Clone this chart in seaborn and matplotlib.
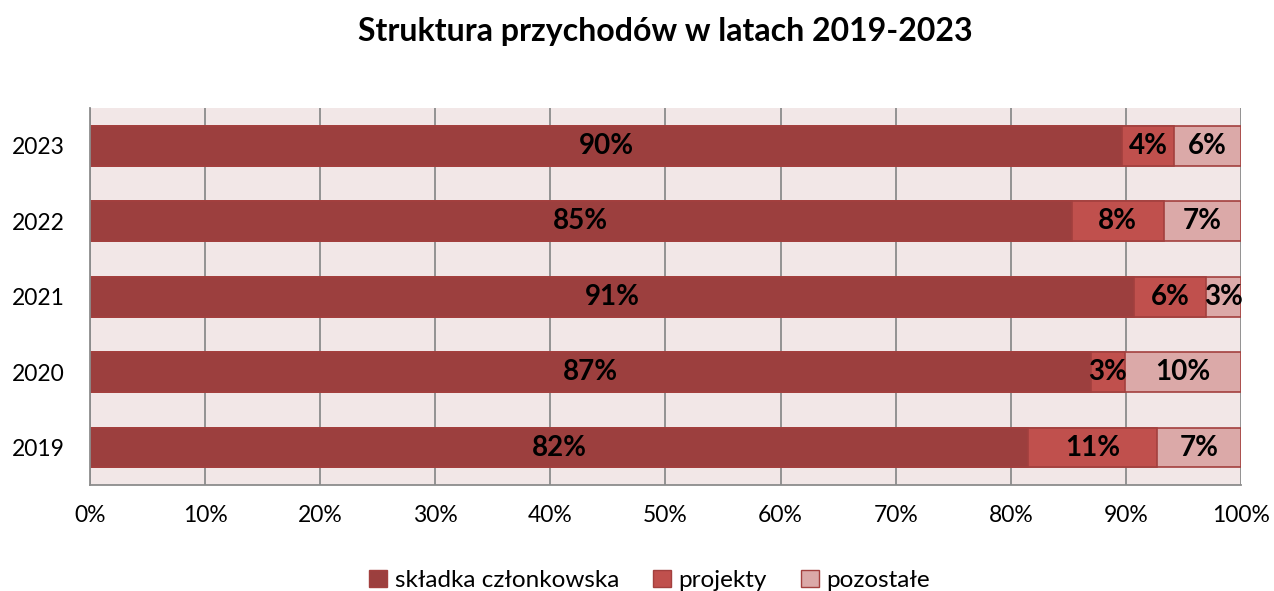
import numpy as np
import pandas as pd
import seaborn as sns
import matplotlib.pyplot as plt
from matplotlib.patches import Patch

# data (percent of total revenue)
years = ["2023", "2022", "2021", "2020", "2019"]
skladka = [89.7, 85.3, 90.7, 87.0, 81.5]
projekty = [4.5, 8.0, 6.3, 2.9, 11.2]
pozostale = [5.8, 6.7, 3.0, 10.1, 7.3]
series_names = ["składka członkowska", "projekty", "pozostałe"]

colors = ["#9C3F3E", "#C0504D", "#DBA9A8"]
edge = "#A3403E"

sns.set_theme(style="white")
plt.rcParams["font.family"] = ["Lato", "DejaVu Sans"]
plt.rcParams["text.color"] = "black"
plt.rcParams["xtick.color"] = "black"
plt.rcParams["ytick.color"] = "black"

df = pd.DataFrame({"rok": years, "s1": skladka, "s2": projekty, "s3": pozostale})
df["c1"] = df["s1"]
df["c2"] = df["s1"] + df["s2"]
df["c3"] = df["c2"] + df["s3"]

fig = plt.figure(figsize=(12.74, 5.91), dpi=100)
ax = fig.add_axes([0.0706, 0.179, 0.9035, 0.638])
ax.set_facecolor("#F2E7E7")

# stacked bars: draw cumulative totals back to front
for col, c in zip(["c3", "c2", "c1"], colors[::-1]):
    sns.barplot(data=df, x=col, y="rok", order=years, color=c, width=0.53,
                edgecolor=edge, linewidth=1.2, saturation=1, ax=ax)

# labels in segment centres
for i, row in df.iterrows():
    starts = [0, row["c1"], row["c2"]]
    vals = [row["s1"], row["s2"], row["s3"]]
    for s, v in zip(starts, vals):
        ax.text(s + v / 2, i, f"{round(v):d}%", ha="center", va="center",
                fontsize=20, fontweight="bold", color="black")

ax.set_xlim(0, 100)
ax.set_ylim(4.5, -0.5)
ax.set_xticks(np.arange(0, 101, 10))
ax.set_xticklabels([f"{t}%" for t in range(0, 101, 10)])
ax.tick_params(axis="x", labelsize=16.5, pad=14, length=0)
ax.tick_params(axis="y", labelsize=16.5, pad=18, length=0)
ax.set_xlabel("")
ax.set_ylabel("")
ax.grid(axis="x", color="#8C8C8C", linewidth=1.3)
ax.set_axisbelow(True)
for side in ["top", "right"]:
    ax.spines[side].set_visible(False)
for side in ["left", "bottom"]:
    ax.spines[side].set_color("#8C8C8C")
    ax.spines[side].set_linewidth(1.3)

ax.set_title("Struktura przychodów w latach 2019-2023", fontsize=23,
             fontweight="bold", color="black", pad=48)

handles = [Patch(facecolor=c, edgecolor=edge, label=n) for c, n in zip(colors, series_names)]
fig.legend(handles=handles, loc="lower center", ncol=3, frameon=False,
           fontsize=17.5, bbox_to_anchor=(0.51, -0.037), handlelength=0.75,
           handleheight=0.75, handletextpad=0.3, columnspacing=1.4)

fig.savefig("out.png", dpi=100)
